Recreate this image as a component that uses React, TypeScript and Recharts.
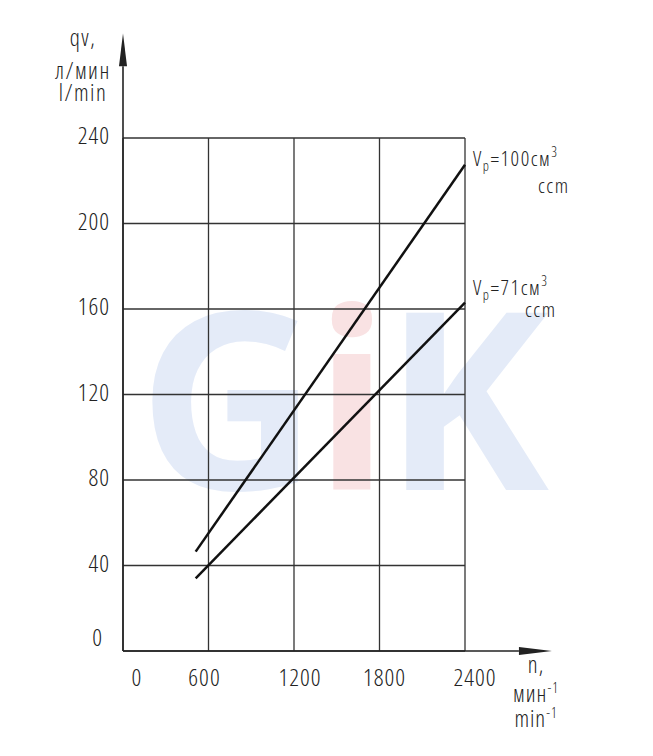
import React from "react"
import { LineChart, Line, XAxis, YAxis, CartesianGrid, ReferenceLine } from "recharts"

// pump flow vs shaft speed, two displacements
const speeds = [510, 2400]
const flow100 = [46.5, 227.5]
const flow71 = [34, 163]

const xTicks = [0, 600, 1200, 1800, 2400]
const yTicks = [0, 40, 80, 120, 160, 200, 240]

const xArrowEnd = 3010
const yArrowEnd = 289

const rows = speeds.map((n, i) => ({ n, v100: flow100[i], v71: flow71[i] }))

const FONT = "'Open Sans', 'Noto Sans', sans-serif"
const INK = "#222"

// hand-placed label nudges in the original drawing
const xTickShift: Record<number, number> = { 0: 14, 600: -4, 1200: 6, 1800: 5, 2400: 10 }

const txt = { fontFamily: FONT, fontStretch: "75%", fontWeight: 300 }

const XTick = (props: any) => {
    const { x, y, payload } = props
    return (
        <text x={x + (xTickShift[payload.value] ?? 0)} y={y + 35} textAnchor="middle" style={txt} fontSize={24} fill={INK} letterSpacing={1}>
            {payload.value}
        </text>
    )
}

const YTick = (props: any) => {
    const { x, y, payload } = props
    const zero = payload.value === 0
    return (
        <text x={x - (zero ? 20 : 13)} y={y + (zero ? -5 : 6)} textAnchor="end" style={txt} fontSize={24} fill={INK} letterSpacing={1}>
            {payload.value}
        </text>
    )
}

const ArrowLine = (props: any) => {
    const { x1, y1, x2, y2 } = props
    const len = Math.hypot(x2 - x1, y2 - y1) || 1
    const ux = (x2 - x1) / len
    const uy = (y2 - y1) / len
    const hl = 33
    const hw = 4
    const bx = x2 - ux * hl
    const by = y2 - uy * hl
    return (
        <g>
            <line x1={x1} y1={y1} x2={bx} y2={by} stroke={INK} strokeWidth={1.6} />
            <polygon points={`${x2},${y2} ${bx - uy * hw},${by + ux * hw} ${bx + uy * hw},${by - ux * hw}`} fill={INK} />
        </g>
    )
}

const makeEndLabel = (disp: string, mainDy: number, ccmDx: number, ccmDy: number) => (props: any) => {
    const { cx, cy, index } = props
    if (index !== rows.length - 1) return <g key={`d${index}`} />
    return (
        <g key={`d${index}`} style={txt} fill={INK} letterSpacing={1.5}>
            <text x={cx + 8} y={cy + mainDy} fontSize={21}>
                V<tspan fontSize={14} dy={5}>p</tspan>
                <tspan dy={-5}>={disp}см</tspan>
                <tspan fontSize={14} dy={-9}>3</tspan>
            </text>
            <text x={cx + ccmDx} y={cy + ccmDy} fontSize={21}>ccm</text>
        </g>
    )
}

const YTitle = (props: any) => {
    const { x, y, width } = props.viewBox
    const cx = x + width - 40
    return (
        <g style={txt} fontSize={23} fill={INK} textAnchor="middle" letterSpacing={1.5}>
            <text x={cx} y={y - 92}>qv,</text>
            <text x={cx} y={y - 59}>л/мин</text>
            <text x={cx} y={y - 37}>l/min</text>
        </g>
    )
}

const XTitle = (props: any) => {
    const { x, y, width } = props.viewBox
    const cx = x + width + 71
    return (
        <g style={txt} fontSize={23} fill={INK} textAnchor="middle" letterSpacing={1}>
            <text x={cx} y={y + 22}>n,</text>
            <text x={cx} y={y + 51}>мин<tspan fontSize={14} dy={-9}>-1</tspan></text>
            <text x={cx} y={y + 76}>min<tspan fontSize={14} dy={-9}>-1</tspan></text>
        </g>
    )
}

export default function App() {
    return (
        <div style={{ position: "relative", width: 653, height: 756, background: "#fff" }}>
            <style>{"body{margin:0}"}</style>
            {/* watermark */}
            <svg width={653} height={756} style={{ position: "absolute", left: 0, top: 0 }}>
                <text y={490} fontFamily="'Open Sans', 'Noto Sans', sans-serif" fontWeight={700} fontSize={248}>
                    <tspan x={138} fill="#e4ebf8">G</tspan>
                    <tspan x={314} fill="#f9e2e3">i</tspan>
                    <tspan x={384} fill="#e4ebf8">K</tspan>
                </text>
            </svg>
            <div style={{ position: "absolute", left: 0, top: 0 }}>
                <LineChart width={653} height={756} data={rows} margin={{ top: 138, right: 188, bottom: 65, left: 63 }}>
                    <CartesianGrid stroke="#333" strokeWidth={1.3} />
                    <XAxis
                        dataKey="n"
                        type="number"
                        domain={[0, 2400]}
                        ticks={xTicks}
                        height={40}
                        axisLine={false}
                        tickLine={false}
                        tickSize={0}
                        tickMargin={0}
                        tick={<XTick />}
                        label={<XTitle />}
                    />
                    <YAxis
                        type="number"
                        domain={[0, 240]}
                        ticks={yTicks}
                        width={60}
                        axisLine={false}
                        tickLine={false}
                        tickSize={0}
                        tickMargin={0}
                        tick={<YTick />}
                        label={<YTitle />}
                    />
                    <ReferenceLine segment={[{ x: 0, y: 0 }, { x: xArrowEnd, y: 0 }]} ifOverflow="visible" shape={ArrowLine} />
                    <ReferenceLine segment={[{ x: 0, y: 0 }, { x: 0, y: yArrowEnd }]} ifOverflow="visible" shape={ArrowLine} />
                    <Line dataKey="v100" stroke="#111" strokeWidth={2.5} isAnimationActive={false} dot={makeEndLabel("100", 1, 73, 28)} activeDot={false} />
                    <Line dataKey="v71" stroke="#111" strokeWidth={2.5} isAnimationActive={false} dot={makeEndLabel("71", -8, 60, 14)} activeDot={false} />
                </LineChart>
            </div>
        </div>
    )
}
